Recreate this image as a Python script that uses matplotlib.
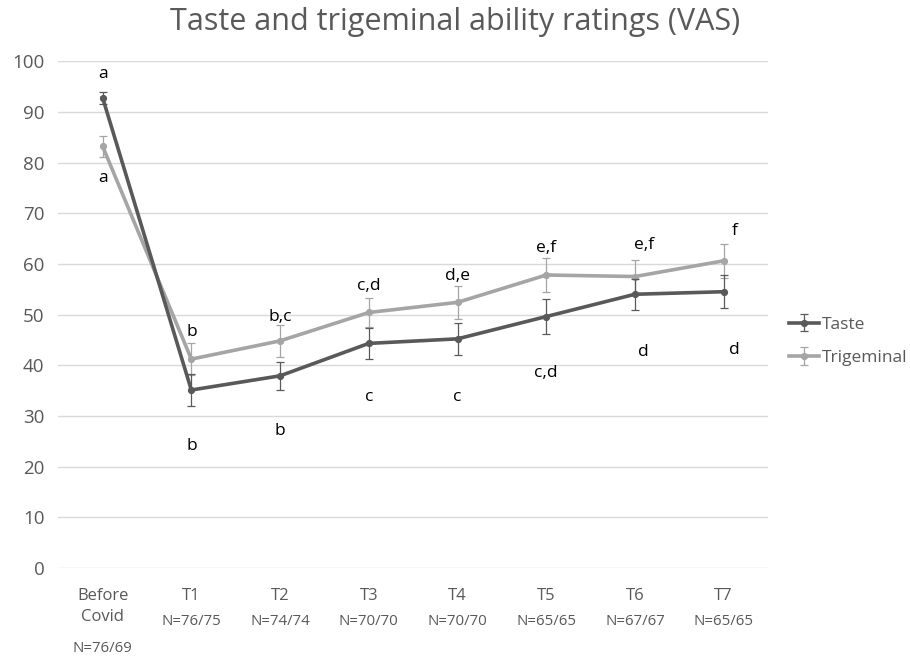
import matplotlib
matplotlib.use("Agg")
import matplotlib.pyplot as plt

plt.rcParams["font.family"] = ["Open Sans", "DejaVu Sans"]

cat_names = ["Before\nCovid", "T1", "T2", "T3", "T4", "T5", "T6", "T7"]
n_labels = ["N=76/69", "N=76/75", "N=74/74", "N=70/70", "N=70/70", "N=65/65", "N=67/67", "N=65/65"]

taste = [92.8, 35.1, 37.9, 44.3, 45.2, 49.6, 54.0, 54.5]
taste_err = [1.2, 3.1, 2.8, 3.1, 3.1, 3.4, 3.1, 3.3]
trigeminal = [83.2, 41.2, 44.8, 50.4, 52.4, 57.8, 57.5, 60.6]
trigeminal_err = [2.1, 3.2, 3.2, 2.9, 3.2, 3.3, 3.3, 3.3]

taste_letters = ["a", "b", "b", "c", "c", "c,d", "d", "d"]
trigeminal_letters = ["a", "b", "b,c", "c,d", "d,e", "e,f", "e,f", "f"]

# where the significance letters sit (y in rating units)
taste_letter_y = [97.4, 24.1, 27.0, 33.8, 33.8, 38.4, 42.7, 43.0]
trigeminal_letter_y = [76.9, 46.6, 49.6, 55.6, 57.6, 63.1, 63.7, 66.5]
letter_dx = [0, 0, 0, 0, 0, 0, 0.1, 0.12]

taste_color = "#595959"
trig_color = "#a5a5a5"
text_color = "#595959"

fig = plt.figure(figsize=(9.1, 6.58), dpi=100)
ax = fig.add_axes([0.064, 0.137, 0.780, 0.770])

x = list(range(len(cat_names)))
ax.errorbar(x, taste, yerr=taste_err, color=taste_color, lw=2.6, marker="o", ms=4.2,
            elinewidth=0.9, capsize=3, capthick=0.9, label="Taste", zorder=3)
ax.errorbar(x, trigeminal, yerr=trigeminal_err, color=trig_color, lw=2.6, marker="o", ms=4.2,
            elinewidth=0.9, capsize=3, capthick=0.9, label="Trigeminal", zorder=2)

for i in x:
    ax.text(i + letter_dx[i], taste_letter_y[i], taste_letters[i], ha="center", va="center",
            fontsize=12.5, color="black")
    ax.text(i + letter_dx[i], trigeminal_letter_y[i], trigeminal_letters[i], ha="center",
            va="center", fontsize=12.5, color="black")

ax.set_xlim(-0.5, len(cat_names) - 0.5)
ax.set_ylim(0, 100)
ax.set_yticks(range(0, 101, 10))
ax.grid(axis="y", color="#d9d9d9", lw=1)
ax.set_axisbelow(True)
for s in ax.spines.values():
    s.set_visible(False)
ax.tick_params(axis="y", length=0, labelsize=13.5, labelcolor=text_color, pad=10)
ax.tick_params(axis="x", length=0)
ax.set_xticks(x)
ax.set_xticklabels([])

# category names and sample sizes under the axis
for i in x:
    ax.text(i, -4.0, cat_names[i], ha="center", va="top", fontsize=12,
            color=text_color, linespacing=1.4, clip_on=False)
    ny = -14.4 if "\n" in cat_names[i] else -9.2
    ax.text(i, ny, n_labels[i], ha="center", va="top", fontsize=10.8,
            color=text_color, clip_on=False)

fig.suptitle("Taste and trigeminal ability ratings (VAS)", x=0.5, y=0.99,
             fontsize=22, color=text_color)

leg = ax.legend(loc="center left", bbox_to_anchor=(1.008, 0.447), frameon=False,
                fontsize=12.5, labelcolor=text_color, handlelength=1.7,
                handletextpad=0.2, labelspacing=1.0)

fig.savefig("out.png", dpi=100, facecolor="white")
